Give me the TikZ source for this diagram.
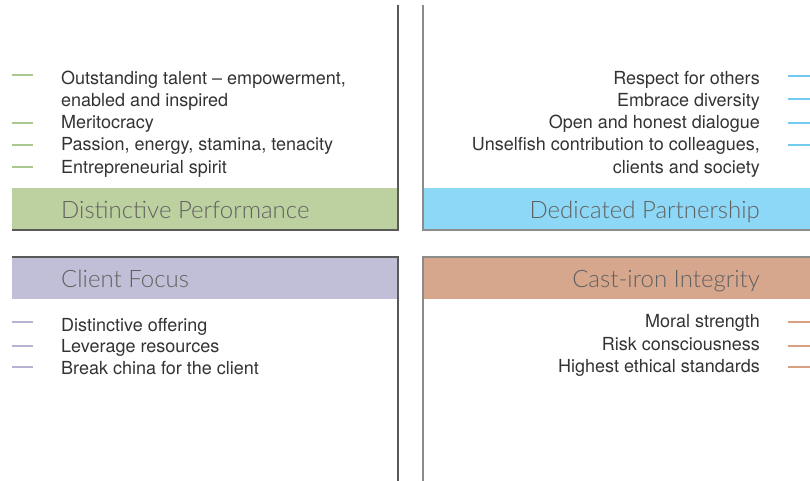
\documentclass[tikz,border=0pt]{standalone}
\usepackage{fontspec}
\setmainfont{TeX Gyre Heros}
\newfontfamily\titlefont{Lato-Light}[Extension=.ttf]

\definecolor{perfgreen}{HTML}{BDD1A0}
\definecolor{partblue}{HTML}{8DD8F6}
\definecolor{clientlilac}{HTML}{C1BFD7}
\definecolor{ironsalmon}{HTML}{D6A78D}
\definecolor{perfdash}{HTML}{A9C98F}
\definecolor{partdash}{HTML}{72CBEF}
\definecolor{clientdash}{HTML}{B6B3D1}
\definecolor{irondash}{HTML}{D89F83}

\begin{document}
\begin{tikzpicture}[x=1pt, y=-1pt,
        item/.style={font=\fontsize{18}{22}\selectfont, text=black!80, inner sep=0pt},
        lft/.style={item, anchor=base west, align=left},
        rgt/.style={item, anchor=base east, align=right},
        title/.style={font=\titlefont\fontsize{24}{28}\selectfont, text=black!62, inner sep=0pt},
        rule/.style={line width=1.2pt, draw=black!65},
        ruleb/.style={line width=1.2pt, draw=black!45},
        tick/.style={line width=2pt}]
        \useasboundingbox (0,0) rectangle (810,481);

        \fill[perfgreen]   (12,188)  rectangle (398,230);
        \fill[partblue]    (423,188) rectangle (810,230);
        \fill[clientlilac] (12,257)  rectangle (398,299);
        \fill[ironsalmon]  (423,257) rectangle (810,299);

        \draw[rule]  (398,5) -- (398,230) -- (12,230);
        \draw[rule]  (12,257) -- (398,257) -- (398,481);
        \draw[ruleb] (423,5) -- (423,230) -- (810,230);
        \draw[ruleb] (810,257) -- (423,257) -- (423,481);

        \node[title, anchor=base west] (perf)      at (61,218)  {Distinctive Performance};
        \node[title, anchor=base east] (partner)   at (760,218) {Dedicated Partnership};
        \node[title, anchor=base west] (client)    at (61,287)  {Client Focus};
        \node[title, anchor=base east] (integrity) at (760,287) {Cast-iron Integrity};

        % two-line items sit on the baseline of their last line
        \node[lft] (talent)  at (61,107) {Outstanding talent – empowerment,\\enabled and inspired};
        \node[lft] (merit)   at (61,129) {Meritocracy};
        \node[lft] (passion) at (61,151) {Passion, energy, stamina, tenacity};
        \node[lft] (spirit)  at (61,173) {Entrepreneurial spirit};

        \node[rgt] (respect)   at (760,85)  {Respect for others};
        \node[rgt] (diversity) at (760,107) {Embrace diversity};
        \node[rgt] (dialogue)  at (760,129) {Open and honest dialogue};
        \node[rgt] (unselfish) at (760,173) {Unselfish contribution to colleagues,\\clients and society};

        \node[lft] (offering)  at (61,331) {Distinctive offering};
        \node[lft] (leverage)  at (61,352) {Leverage resources};
        \node[lft] (china)     at (61,374) {Break china for the client};

        \node[rgt] (moral)     at (760,327) {Moral strength};
        \node[rgt] (risk)      at (760,350) {Risk consciousness};
        \node[rgt] (ethics)    at (760,372) {Highest ethical standards};

        \foreach \n/\d in {talent/32, merit/6, passion/6, spirit/6}
            \draw[tick, perfdash] ([xshift=-49pt, yshift=\d pt]\n.base west) -- ++(21,0);
        \foreach \n/\d in {respect/9, diversity/8, dialogue/6, unselfish/28}
            \draw[tick, partdash] ([xshift=28pt, yshift=\d pt]\n.base east) -- ++(22,0);
        \foreach \n/\d in {offering/9, leverage/6, china/7}
            \draw[tick, clientdash] ([xshift=-49pt, yshift=\d pt]\n.base west) -- ++(21,0);
        \foreach \n/\d in {moral/5, risk/4, ethics/5}
            \draw[tick, irondash] ([xshift=28pt, yshift=\d pt]\n.base east) -- ++(22,0);
    \end{tikzpicture}
\end{document}
